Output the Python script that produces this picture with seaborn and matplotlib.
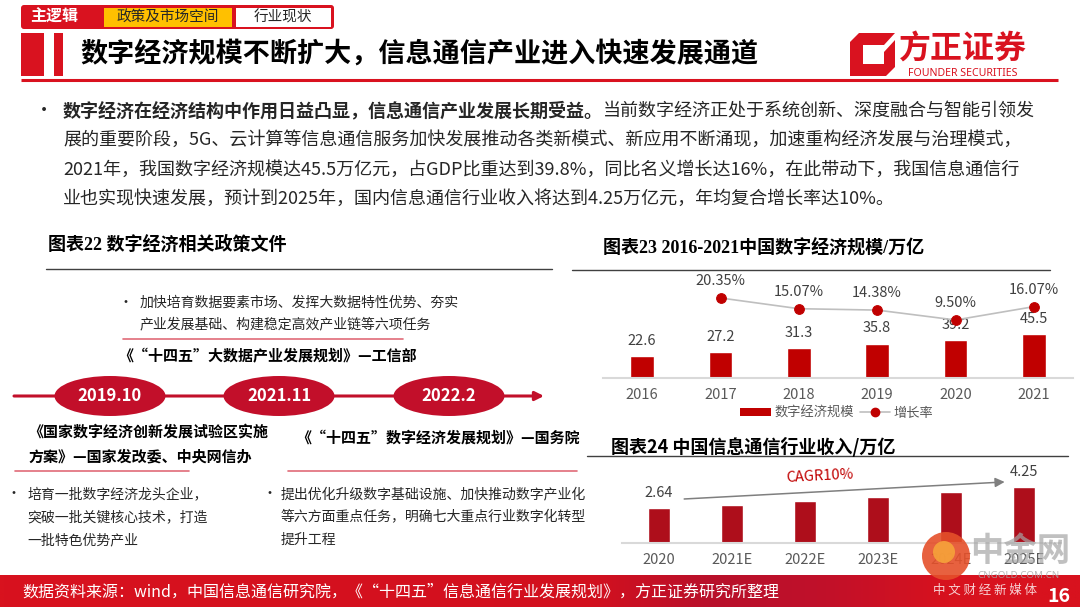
import numpy as np
import pandas as pd
import matplotlib
matplotlib.use("Agg")
import matplotlib.pyplot as plt
import seaborn as sns
from matplotlib.patches import Rectangle, FancyBboxPatch, Ellipse, Polygon, Circle, Patch
from matplotlib.lines import Line2D
from matplotlib.colors import LinearSegmentedColormap

# ---------------- data ----------------
years_23 = ["2016", "2017", "2018", "2019", "2020", "2021"]
scale_23 = [22.6, 27.2, 31.3, 35.8, 39.2, 45.5]
growth_years_23 = ["2017", "2018", "2019", "2020", "2021"]
growth_23 = [20.35, 15.07, 14.38, 9.50, 16.07]
legend_23 = ["数字经济规模", "增长率"]

years_24 = ["2020", "2021E", "2022E", "2023E", "2024E", "2025E"]
income_24 = [2.64, 2.92, 3.21, 3.52, 3.88, 4.25]
labelled_24 = ["2020", "2025E"]
cagr_text = "CAGR10%"

timeline_dates = ["2019.10", "2021.11", "2022.2"]

header_tags = ["主逻辑", "政策及市场空间", "行业现状"]
page_title = "数字经济规模不断扩大，信息通信产业进入快速发展通道"
para_bold = "数字经济在经济结构中作用日益凸显，信息通信产业发展长期受益。"
para_lines = [
    "当前数字经济正处于系统创新、深度融合与智能引领发",
    "展的重要阶段，5G、云计算等信息通信服务加快发展推动各类新模式、新应用不断涌现，加速重构经济发展与治理模式，",
    "2021年，我国数字经济规模达45.5万亿元，占GDP比重达到39.8%，同比名义增长达16%，在此带动下，我国信息通信行",
    "业也实现快速发展，预计到2025年，国内信息通信行业收入将达到4.25万亿元，年均复合增长率达10%。",
]
title_22 = "图表22 数字经济相关政策文件"
title_23 = "图表23 2016-2021中国数字经济规模/万亿"
title_24 = "图表24 中国信息通信行业收入/万亿"
policy_top_bullet = ["加快培育数据要素市场、发挥大数据特性优势、夯实", "产业发展基础、构建稳定高效产业链等六项任务"]
policy_top_name = "《“十四五”大数据产业发展规划》—工信部"
policy_left_name = ["《国家数字经济创新发展试验区实施", "方案》—国家发改委、中央网信办"]
policy_right_name = "《“十四五”数字经济发展规划》—国务院"
policy_left_bullet = ["培育一批数字经济龙头企业，", "突破一批关键核心技术，打造", "一批特色优势产业"]
policy_right_bullet = ["提出优化升级数字基础设施、加快推动数字产业化", "等六方面重点任务，明确七大重点行业数字化转型", "提升工程"]
source_text = "数据资料来源：wind，中国信息通信研究院，《“十四五”信息通信行业发展规划》，方正证券研究所整理"
page_no = "16"

# ---------------- style ----------------
sns.set_theme(style="white")
plt.rcParams["font.family"] = ["Noto Sans CJK SC", "DejaVu Sans"]
plt.rcParams["axes.unicode_minus"] = False

RED = "#D9121F"
BAR23 = "#C00000"
BAR24 = "#AE0E1B"
ELL = "#C20F2A"
PINK = "#E06B78"
TXT = "#262626"
GRAY = "#595959"

W, H = 1080, 607
fig = plt.figure(figsize=(10.8, 6.07), dpi=100)
fig.patch.set_facecolor("white")

bg = fig.add_axes([0, 0, 1, 1])
bg.set_xlim(0, W)
bg.set_ylim(H, 0)
bg.axis("off")


def px_axes(left, top, right, bottom):
    return fig.add_axes([left / W, 1 - bottom / H, (right - left) / W, (bottom - top) / H])


# ---------------- header ----------------
bg.add_patch(FancyBboxPatch((21, 5), 313, 24, boxstyle="round,pad=0,rounding_size=3",
                            facecolor=RED, edgecolor="none"))
bg.add_patch(Rectangle((104, 7.5), 128, 19.5, facecolor="#FFC000", edgecolor="none"))
bg.add_patch(Rectangle((236, 7.5), 95, 19.5, facecolor="white", edgecolor="none"))
bg.text(54, 17, header_tags[0], color="white", fontsize=11.5, fontweight="bold", ha="center", va="center")
bg.text(168, 17, header_tags[1], color=TXT, fontsize=10.5, ha="center", va="center")
bg.text(283, 17, header_tags[2], color=TXT, fontsize=10.5, ha="center", va="center")

bg.add_patch(Rectangle((21, 33), 23, 43, facecolor=RED, edgecolor="none"))
bg.add_patch(Rectangle((54, 33), 9, 43, facecolor=RED, edgecolor="none"))
bg.text(80, 54, page_title, fontsize=19.5, fontweight="bold", color="black", va="center")
bg.plot([21, 1058], [80, 80], color=RED, lw=2.2, solid_capstyle="butt")

# logo
bg.add_patch(Polygon([(859, 33), (895, 33), (895, 67), (886, 76), (850, 76), (850, 42)],
                     closed=True, facecolor=RED, edgecolor="none"))
bg.add_patch(Polygon([(863, 45), (884, 45), (884, 64), (863, 64)],
                     closed=True, facecolor="white", edgecolor="none"))
bg.add_patch(Polygon([(884, 45), (895, 33), (895, 40), (884, 52)],
                     closed=True, facecolor="white", edgecolor="none"))
bg.text(963, 50, "方正证券", fontsize=23, fontweight="heavy", color=RED, ha="center", va="center")
bg.text(963, 73, "FOUNDER SECURITIES", fontsize=7.6, fontweight="heavy", color=RED,
        ha="center", va="center", family=["Noto Sans", "DejaVu Sans"])

# ---------------- paragraph ----------------
fig.canvas.draw()
renderer = fig.canvas.get_renderer()
para_y = [111, 140, 170, 199]
bg.text(35, para_y[0], "•", fontsize=13, color=TXT, va="center")
tb = bg.text(63, para_y[0], para_bold, fontsize=13, fontweight="bold", color=TXT, va="center")
x_end = tb.get_window_extent(renderer).x1
bg.text(x_end, para_y[0], para_lines[0], fontsize=13, color=TXT, va="center")
for yy, line in zip(para_y[1:], para_lines[1:]):
    bg.text(63, yy, line, fontsize=13, color=TXT, va="center")

# ---------------- chart 22 (policy timeline) ----------------
serif_cjk = ["Liberation Serif", "Noto Sans CJK SC"]
bg.text(48, 245, title_22, fontsize=13, fontweight="bold", color="black", va="center", family=serif_cjk)
bg.plot([46, 552], [269, 269], color="#404040", lw=1)

bg.text(119, 303, "•", fontsize=10, color=TXT, va="center")
for i, line in enumerate(policy_top_bullet):
    bg.text(140, 303 + 21 * i, line, fontsize=10, color=TXT, va="center")
bg.plot([123, 403], [339, 339], color=PINK, lw=1.2)
bg.text(118, 356, policy_top_name, fontsize=10.8, fontweight="bold", color="black", va="center")

bg.annotate("", xy=(544, 396), xytext=(14, 396),
            arrowprops=dict(arrowstyle="-|>", color=ELL, lw=2.2, mutation_scale=13, shrinkA=0, shrinkB=0))
for cx, d in zip([110, 279, 449], timeline_dates):
    bg.add_patch(Ellipse((cx, 396), 111, 40, facecolor=ELL, edgecolor="none", zorder=3))
    bg.text(cx, 396, d, color="white", fontsize=12, fontweight="bold", ha="center", va="center", zorder=4)

for i, line in enumerate(policy_left_name):
    bg.text(28, 432 + 24 * i, line, fontsize=10.8, fontweight="bold", color="black", va="center")
bg.text(296, 438, policy_right_name, fontsize=10.8, fontweight="bold", color="black", va="center")
bg.plot([15, 189], [471, 471], color=PINK, lw=1.2)
bg.plot([288, 577], [471, 471], color=PINK, lw=1.2)

bg.text(7, 494, "•", fontsize=10, color=TXT, va="center")
for i, line in enumerate(policy_left_bullet):
    bg.text(27, 494 + 23 * i, line, fontsize=10, color=TXT, va="center")
bg.text(262, 494, "•", fontsize=10, color=TXT, va="center")
for i, line in enumerate(policy_right_bullet):
    bg.text(281, 494 + 23 * i, line, fontsize=10, color=TXT, va="center")

# ---------------- chart 23 ----------------
bg.text(603, 248, title_23, fontsize=13, fontweight="bold", color="black", va="center", family=serif_cjk)
bg.plot([572, 1050], [270, 270], color="#404040", lw=1)

ax = px_axes(603, 271, 1073, 378)
df23 = pd.DataFrame({"year": years_23, "scale": scale_23})
sns.barplot(data=df23, x="year", y="scale", color=BAR23, saturation=1, width=0.3, ax=ax)
ax.set_xlim(-0.5, len(years_23) - 0.5)
ax.set_ylim(0, 107 / 0.96)
ax.bar_label(ax.containers[0], fmt="%.1f", padding=6, fontsize=10.5, color="#404040")
for s in ["top", "left", "right"]:
    ax.spines[s].set_visible(False)
ax.spines["bottom"].set_color("#D9D9D9")
ax.spines["bottom"].set_linewidth(1.5)
ax.set_yticks([])
ax.set_xlabel("")
ax.set_ylabel("")
ax.tick_params(axis="x", length=0, pad=7, labelsize=10.5, labelcolor=GRAY)
ax.patch.set_alpha(0)

ax2 = ax.twinx()
df_g = pd.DataFrame({"x": [years_23.index(y) for y in growth_years_23], "g": growth_23})
sns.lineplot(data=df_g, x="x", y="g", ax=ax2, color="#BFBFBF", lw=1.2, marker="o", markersize=7,
             markerfacecolor=BAR23, markeredgecolor=BAR23)
ax2.set_xlim(-0.5, len(years_23) - 0.5)
g0 = 9.5 - 58 / 2.03
ax2.set_ylim(g0, g0 + 107 / 2.03)
for xi, g in zip(df_g["x"], df_g["g"]):
    ax2.annotate(f"{g:.2f}%", (xi, g), xytext=(0, 7), textcoords="offset points",
                 ha="center", va="bottom", fontsize=10.5, color="#404040")
for s in ax2.spines.values():
    s.set_visible(False)
ax2.set_yticks([])
ax2.set_xlabel("")
ax2.set_ylabel("")
ax2.patch.set_alpha(0)

handles = [Patch(facecolor=BAR23, edgecolor="none"),
           Line2D([], [], color="#BFBFBF", lw=1.2, marker="o", markersize=6,
                  markerfacecolor=BAR23, markeredgecolor=BAR23)]
fig.legend(handles, legend_23, loc="center", bbox_to_anchor=(837 / W, 1 - 413 / H), ncol=2,
           frameon=False, fontsize=9.5, handlelength=2.3, handleheight=0.6, columnspacing=0.4,
           handletextpad=0.3, labelcolor=GRAY)

# ---------------- chart 24 ----------------
bg.text(611, 447, title_24, fontsize=13, fontweight="bold", color="black", va="center")
bg.plot([587, 1068], [456, 456], color="#404040", lw=1)

ax3 = px_axes(622, 462, 1061, 543)
df24 = pd.DataFrame({"year": years_24, "income": income_24})
sns.barplot(data=df24, x="year", y="income", color=BAR24, saturation=1, width=0.3, ax=ax3)
ax3.set_xlim(-0.5, len(years_24) - 0.5)
ax3.set_ylim(0, 81 / 13.1)
ax3.bar_label(ax3.containers[0],
              labels=[f"{v:.2f}" if y in labelled_24 else "" for y, v in zip(years_24, income_24)],
              padding=6, fontsize=10.5, color="#404040")
ax3.annotate("", xy=(len(years_24) - 1 - 0.27, income_24[-1] + 0.41), xytext=(0.35, income_24[0] + 0.72),
             arrowprops=dict(arrowstyle="-|>", color="#7F7F7F", lw=1.1, mutation_scale=14,
                             shrinkA=0, shrinkB=0))
ax3.text(2.2, 5.1, cagr_text, color=BAR23, fontsize=10.5, rotation=3, ha="center", va="center")
for s in ["top", "left", "right"]:
    ax3.spines[s].set_visible(False)
ax3.spines["bottom"].set_color("#D9D9D9")
ax3.spines["bottom"].set_linewidth(1.5)
ax3.set_yticks([])
ax3.set_xlabel("")
ax3.set_ylabel("")
ax3.tick_params(axis="x", length=0, pad=7, labelsize=10.5, labelcolor=GRAY)
ax3.patch.set_alpha(0)

# ---------------- footer ----------------
cmap = LinearSegmentedColormap.from_list(
    "foot", [(0, "#D8121E"), (0.55, "#D2101F"), (0.66, "#B8112B"), (0.76, "#C0102A"),
             (0.88, "#D8121E"), (1, "#D8121E")])
bg.imshow(np.linspace(0, 1, 600)[None, :], cmap=cmap, extent=(0, W, H, 575), aspect="auto", zorder=0)
bg.set_xlim(0, W)
bg.set_ylim(H, 0)
bg.text(22, 592, source_text, color="white", fontsize=11.5, style="italic", va="center")

# ---------------- watermark / page number ----------------
fg = fig.add_axes([0, 0, 1, 1])
fg.set_xlim(0, W)
fg.set_ylim(H, 0)
fg.axis("off")
fg.patch.set_alpha(0)
fg.add_patch(Circle((946, 556), 24, facecolor="#E5502A", edgecolor="none", alpha=0.9))
fg.add_patch(Circle((944, 552), 11, facecolor="#F6A33A", edgecolor="none", alpha=0.9))
fg.text(1020, 551, "中金网", fontsize=24, fontweight="bold", color="#A6A6A6", alpha=0.7,
        ha="center", va="center")
fg.text(1019, 576, "CNGOLD.COM.CN", fontsize=7, color="#A6A6A6", alpha=0.8, ha="center", va="center",
        family=["Noto Sans", "DejaVu Sans"])
fg.text(985, 590, "中 文 财 经 新 媒 体", fontsize=9, color="white", alpha=0.8, ha="center", va="center")
fg.text(1059, 596, page_no, fontsize=14, fontweight="bold", color="white", ha="center", va="center")

fig.savefig("out.png", dpi=100, facecolor="white")
